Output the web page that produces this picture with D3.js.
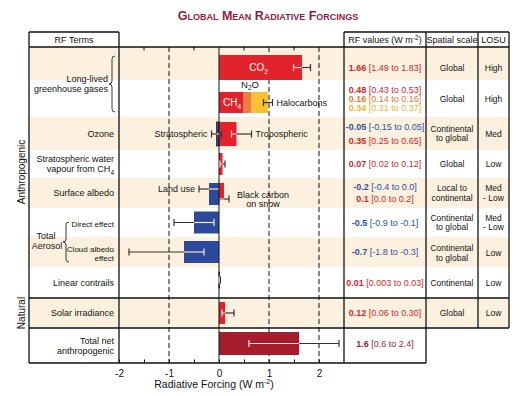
<!DOCTYPE html>
<html>
<head>
<meta charset="utf-8">
<script src="https://d3js.org/d3.v7.min.js"></script>
<style>
  body { margin: 0; background: #fff; }
  text { font-family: "Liberation Sans", Arial, sans-serif; }
</style>
</head>
<body>
<script>
// ---- data ----
var rowKeys = ["co2", "llghg", "ozone", "h2o", "albedo", "direct", "cloud", "contrails", "solar", "total"];

var barTerms  = ["CO2", "CH4", "N2O", "Halocarbons", "Stratospheric", "Tropospheric",
                 "Strat. H2O", "Land use", "Black carbon", "Direct effect", "Cloud albedo",
                 "Linear contrails", "Solar irradiance", "Total net"];
var barRows   = ["co2", "llghg", "llghg", "llghg", "ozone", "ozone", "h2o", "albedo", "albedo",
                 "direct", "cloud", "contrails", "solar", "total"];
var barValues = [1.66, 0.48, 0.16, 0.34, -0.05, 0.35, 0.07, -0.2, 0.1, -0.5, -0.7, 0.01, 0.12, 1.6];
var barKinds  = ["red", "red", "orange", "yellow", "blue", "red", "red", "blue", "red",
                 "blue", "blue", "red", "red", "darkred"];
var barStack  = [null, "ghg", "ghg", "ghg", null, null, null, null, null, null, null, null, null, null];

var errTerms = ["CO2", "Halocarbons", "Stratospheric", "Tropospheric", "Strat. H2O", "Land use",
                "Black carbon", "Direct effect", "Cloud albedo", "Linear contrails", "Solar irradiance", "Total net"];
var errLow   = [1.49, 0.89, -0.15, 0.25, 0.02, -0.4, 0.0, -0.9, -1.8, 0.003, 0.06, 0.6];
var errHigh  = [1.83, 1.07, 0.05, 0.65, 0.12, 0.0, 0.2, -0.1, -0.3, 0.03, 0.30, 2.4];

var termLabels = [
  ["Long-lived", "greenhouse gases"], ["Ozone"], ["Stratospheric water", "vapour from CH4"],
  ["Surface albedo"], ["Direct effect"], ["Cloud albedo", "effect"], ["Linear contrails"],
  ["Solar irradiance"], ["Total net", "anthropogenic"]
];
var termRows = ["llghg", "ozone", "h2o", "albedo", "direct", "cloud", "contrails", "solar", "total"];

var rfValues = [
  [["1.66", "[1.49 to 1.83]", "red"]],
  [["0.48", "[0.43 to 0.53]", "red"], ["0.16", "[0.14 to 0.16]", "orange"], ["0.34", "[0.31 to 0.37]", "yellow"]],
  [["-0.05", "[-0.15 to 0.05]", "blue"], ["0.35", "[0.25 to 0.65]", "red"]],
  [["0.07", "[0.02 to 0.12]", "red"]],
  [["-0.2", "[-0.4 to 0.0]", "blue"], ["0.1", "[0.0 to 0.2]", "red"]],
  [["-0.5", "[-0.9 to -0.1]", "blue"]],
  [["-0.7", "[-1.8 to -0.3]", "blue"]],
  [["0.01", "[0.003 to 0.03]", "red"]],
  [["0.12", "[0.06 to 0.30]", "red"]],
  [["1.6", "[0.6 to 2.4]", "darkred"]]
];
var spatialScale = ["Global", "Global", "Continental|to global", "Global", "Local to|continental",
                    "Continental|to global", "Continental|to global", "Continental", "Global", ""];
var losu = ["High", "High", "Med", "Low", "Med|- Low", "Med|- Low", "Low", "Low", "Low", ""];

var xTickValues = [-2, -1.5, -1, -0.5, 0, 0.5, 1, 1.5, 2];

// ---- layout / style ----
var RF = {};
RF.colors = { red: "#e3232b", orange: "#e9803f", yellow: "#f6c133", blue: "#2c4a9b", darkred: "#a51d2c" };
RF.text   = { red: "#d5262d", orange: "#e07a37", yellow: "#efb628", blue: "#2f4f9c", darkred: "#a21f2f" };
RF.beige = "#fcf1de";
RF.rowH = [33, 37, 33, 28, 30, 29, 30, 31, 30, 35];
RF.top = 47;
RF.barLayout = {   // height, shift from row centre
  "CO2": [25, 4], "CH4": [21, 4], "N2O": [21, 4], "Halocarbons": [21, 4],
  "Stratospheric": [24, 0.5], "Tropospheric": [24, 0.5], "Land use": [22, 1], "Black carbon": [17, -1.5],
  "Linear contrails": [16, -2.5], "Total net": [23, -2]
};
RF.errShift = { "Land use": -4, "Black carbon": 6, "Halocarbons": 4, "CO2": 4, "Stratospheric": 0.5,
                "Tropospheric": 0.5, "Total net": -2, "Linear contrails": -2.5 };

var svg = d3.select("body").append("svg").attr("width", 522).attr("height", 396);

var x = d3.scaleLinear().domain([-2, 2.5]).range([119, 344]);

var rowTop = {}, rowMid = {};
var acc = RF.top;
rowKeys.forEach(function(k, i) {
  rowTop[k] = acc; rowMid[k] = acc + RF.rowH[i] / 2; acc += RF.rowH[i];
});
var bottom = acc;   // 363

// ---- striped background ----
svg.selectAll("rect.band")
  .data(rowKeys.filter(function(k, i) { return i % 2 === 0; }))
  .enter().append("rect")
  .attr("x", 29).attr("width", 480)
  .attr("y", function(k) { return rowTop[k]; })
  .attr("height", function(k) { return RF.rowH[rowKeys.indexOf(k)]; })
  .attr("fill", RF.beige);

// ---- title ----
svg.append("text")
  .attr("x", 268).attr("y", 20)
  .attr("text-anchor", "middle")
  .style("font-variant", "small-caps")
  .attr("font-weight", "bold").attr("font-size", "12.5px")
  .attr("fill", "#8e1c45")
  .text("Global Mean Radiative Forcings");

// ---- grid lines ----
svg.selectAll("line.grid")
  .data([-1, 1, 2])
  .enter().append("line")
  .attr("x1", function(d) { return x(d); }).attr("x2", function(d) { return x(d); })
  .attr("y1", RF.top).attr("y2", bottom)
  .attr("stroke", "#111").attr("stroke-width", 1).attr("stroke-dasharray", "5,3");

// ---- bars ----
var stackAcc = {};
var bars = barTerms.map(function(t, i) {
  var base = 0;
  if (barStack[i]) { base = stackAcc[barStack[i]] || 0; stackAcc[barStack[i]] = base + barValues[i]; }
  var lay = RF.barLayout[t] || [22, 0];
  return { term: t, row: barRows[i], v: barValues[i], base: base, kind: barKinds[i], h: lay[0], dy: lay[1] };
});

svg.selectAll("rect.bar")
  .data(bars)
  .enter().append("rect")
  .attr("class", "bar")
  .attr("x", function(d) { return x(Math.min(d.base, d.base + d.v)); })
  .attr("width", function(d) { return Math.abs(x(d.base + d.v) - x(d.base)); })
  .attr("y", function(d) { return rowMid[d.row] + d.dy - d.h / 2; })
  .attr("height", function(d) { return d.h; })
  .attr("fill", function(d) { return RF.colors[d.kind]; })
  .attr("stroke", function(d) { return (d.term === "Stratospheric" || d.term === "Linear contrails") ? "#222" : "none"; })
  .attr("stroke-width", 0.8);

// zero line
svg.append("line")
  .attr("x1", x(0)).attr("x2", x(0)).attr("y1", RF.top).attr("y2", bottom)
  .attr("stroke", "#111").attr("stroke-width", 1);

// ---- error bars ----
var errs = errTerms.map(function(t, i) {
  var b = bars.filter(function(d) { return d.term === t; })[0];
  var bar = b.term === "Halocarbons" ? { lo: 0, hi: b.base + b.v } :
            { lo: Math.min(b.base, b.base + b.v), hi: Math.max(b.base, b.base + b.v) };
  var light = d3.lab(RF.colors[b.kind]).l > 70;
  return { term: t, lo: errLow[i], hi: errHigh[i], y: rowMid[b.row] + (RF.errShift[t] || 0),
           barLo: bar.lo, barHi: bar.hi, inColor: light ? "#333" : "#fbe9e9" };
});

var eg = svg.selectAll("g.err").data(errs).enter().append("g");
eg.append("line")
  .attr("x1", function(d) { return x(d.lo); }).attr("x2", function(d) { return x(d.hi); })
  .attr("y1", function(d) { return d.y; }).attr("y2", function(d) { return d.y; })
  .attr("stroke", "#333").attr("stroke-width", 1.2);
eg.append("line")   // portion that sits over the bar
  .attr("x1", function(d) { return x(Math.max(d.lo, d.barLo)); })
  .attr("x2", function(d) { return x(Math.max(Math.max(d.lo, d.barLo), Math.min(d.hi, d.barHi))); })
  .attr("y1", function(d) { return d.y; }).attr("y2", function(d) { return d.y; })
  .attr("stroke", function(d) { return d.inColor; }).attr("stroke-width", 1.2);
["lo", "hi"].forEach(function(end) {
  eg.append("line")
    .attr("x1", function(d) { return x(d[end]); }).attr("x2", function(d) { return x(d[end]); })
    .attr("y1", function(d) { return d.y - 3.5; }).attr("y2", function(d) { return d.y + 3.5; })
    .attr("stroke", function(d) {
      var v = d[end];
      return (v > d.barLo + 0.001 && v < d.barHi - 0.001) ? d.inColor : "#333";
    })
    .attr("stroke-width", 1.2);
});

// ---- in-plot labels ----
function sub(sel, main, s) {
  sel.append("tspan").text(main);
  sel.append("tspan").attr("font-size", "6.5px").attr("dy", 2.5).text(s);
}
function barOf(t) { return bars.filter(function(d) { return d.term === t; })[0]; }
var co2 = barOf("CO2"), ch4 = barOf("CH4"), n2o = barOf("N2O");
var tCO2 = svg.append("text").attr("x", x(co2.v / 2) - 2).attr("y", rowMid.co2 + 4 + 3.5)
  .attr("text-anchor", "middle").attr("font-size", "10px").attr("fill", "#fff");
sub(tCO2, "CO", "2");
var tCH4 = svg.append("text").attr("x", x(ch4.v / 2) + 1).attr("y", rowMid.llghg + 4 + 3.5)
  .attr("text-anchor", "middle").attr("font-size", "10px").attr("fill", "#fff");
sub(tCH4, "CH", "4");
var tN2O = svg.append("text").attr("x", x(n2o.base + n2o.v / 2) + 3).attr("y", rowMid.llghg - 11)
  .attr("text-anchor", "middle").attr("font-size", "9.5px").attr("fill", "#111");
tN2O.append("tspan").text("N");
tN2O.append("tspan").attr("font-size", "6.5px").attr("dy", 2.5).text("2");
tN2O.append("tspan").attr("dy", -2.5).text("O");

var sideLabels = [
  { term: "Halocarbons", lines: ["Halocarbons"], side: "right" },
  { term: "Stratospheric", lines: ["Stratospheric"], side: "left" },
  { term: "Tropospheric", lines: ["Tropospheric"], side: "right" },
  { term: "Land use", lines: ["Land use"], side: "left" },
  { term: "Black carbon", lines: ["Black carbon", "on snow"], side: "right" }
];
sideLabels.forEach(function(s) {
  var e = errs.filter(function(d) { return d.term === s.term; })[0];
  var t = svg.append("text").attr("font-size", "9px").attr("fill", "#111")
    .attr("text-anchor", s.side === "left" ? "end" : "start");
  var px = s.side === "left" ? x(e.lo) - 4 : x(e.hi) + 4;
  var py = e.y + 3;
  if (s.term === "Black carbon") { px = x(e.hi) + 8; py = e.y - 1; }
  s.lines.forEach(function(l, i) {
    t.append("tspan").attr("x", s.term === "Black carbon" && i === 1 ? px + 26 : px)
      .attr("text-anchor", s.term === "Black carbon" && i === 1 ? "middle" : null)
      .attr("y", py + i * 9).text(l);
  });
});

// ---- axis ----
var axis = d3.axisBottom(x).tickValues(xTickValues).tickSizeInner(-3.5).tickSizeOuter(0)
  .tickPadding(7)
  .tickFormat(function(d) { return Number.isInteger(d) ? d3.format("d")(d).replace("−", "-") : ""; });
var ag = svg.append("g").attr("transform", "translate(0," + bottom + ")").call(axis);
ag.select(".domain").remove();
ag.selectAll("line").attr("stroke", "#111");
ag.selectAll("text").attr("font-size", "10px").attr("fill", "#111")
  .attr("font-family", "Liberation Sans, Arial, sans-serif");
// top ticks
svg.selectAll("line.ttick").data(xTickValues.filter(function(d) { return !Number.isInteger(d); }))
  .enter().append("line")
  .attr("x1", function(d) { return x(d); }).attr("x2", function(d) { return x(d); })
  .attr("y1", RF.top).attr("y2", RF.top + 3.5).attr("stroke", "#111");

var xl = svg.append("text").attr("x", 214).attr("y", 388).attr("text-anchor", "middle")
  .attr("font-size", "10.5px").attr("fill", "#111");
xl.append("tspan").text("Radiative Forcing  (W m");
xl.append("tspan").attr("font-size", "7px").attr("dy", -4).text("-2");
xl.append("tspan").attr("dy", 4).text(")");

// ---- table lines ----
var hl = [[29, 509, RF.top], [29, 119, 32], [344, 509, 32], [29, 509, rowTop.solar], [29, 509, rowTop.total], [29, 426, bottom]];
var vl = [[29, 32, bottom], [119, 32, bottom], [344, 32, bottom], [426, 32, bottom], [478, 32, rowTop.total], [509, 32, rowTop.total]];
svg.selectAll("line.h").data(hl).enter().append("line")
  .attr("x1", function(d) { return d[0]; }).attr("x2", function(d) { return d[1]; })
  .attr("y1", function(d) { return d[2]; }).attr("y2", function(d) { return d[2]; })
  .attr("stroke", "#111").attr("stroke-width", 1.3);
svg.selectAll("line.v").data(vl).enter().append("line")
  .attr("x1", function(d) { return d[0]; }).attr("x2", function(d) { return d[0]; })
  .attr("y1", function(d) { return d[1]; }).attr("y2", function(d) { return d[2]; })
  .attr("stroke", "#111").attr("stroke-width", 1.3);

// headers
var hdr = [[74, "RF Terms"], [452, "Spatial scale"], [493.5, "LOSU"]];
hdr.forEach(function(h) {
  svg.append("text").attr("x", h[0]).attr("y", 43).attr("text-anchor", "middle")
    .attr("font-size", "9px").attr("fill", "#111").text(h[1]);
});
var rfh = svg.append("text").attr("x", 385).attr("y", 43).attr("text-anchor", "middle")
  .attr("font-size", "9px").attr("fill", "#111");
rfh.append("tspan").text("RF values (W m");
rfh.append("tspan").attr("font-size", "6.5px").attr("dy", -3.5).text("-2");
rfh.append("tspan").attr("dy", 3.5).text(")");

// ---- RF term labels ----
var labelMid = { llghg: 84, direct: 224, cloud: 253 };
termLabels.forEach(function(lines, i) {
  var k = termRows[i];
  var xr = k === "llghg" ? 108 : 114;
  var small = (k === "direct" || k === "cloud");
  var n = lines.length, lh = small ? 9 : 10;
  var t = svg.append("text").attr("text-anchor", "end")
    .attr("font-size", small ? "8px" : "9px").attr("fill", "#111");
  var cy = labelMid[k] || rowMid[k];
  lines.forEach(function(l, j) {
    var ts = t.append("tspan").attr("x", xr).attr("y", cy + 3.2 + (j - (n - 1) / 2) * lh);
    if (l === "vapour from CH4") {
      ts.text("vapour from CH");
      t.append("tspan").attr("font-size", "6.5px").attr("dy", 2.5).text("4");
    } else ts.text(l);
  });
});
// Total Aerosol
var ta = svg.append("text").attr("text-anchor", "middle").attr("font-size", "9px").attr("fill", "#111");
ta.append("tspan").attr("x", 46).attr("y", rowTop.cloud + 2).text("Total");
ta.append("tspan").attr("x", 47).attr("y", rowTop.cloud + 12).text("Aerosol");

// braces
function brace(xb, y0, y1) {
  var m = (y0 + y1) / 2;
  return "M" + (xb + 4) + "," + y0 + " q-3,0 -3,3 L" + (xb + 1) + "," + (m - 3) +
    " q0,3 -3,3 q3,0 3,3 L" + (xb + 1) + "," + (y1 - 3) + " q0,3 3,3";
}
svg.append("path").attr("d", brace(111, rowTop.llghg - 24, rowTop.llghg + 32))
  .attr("fill", "none").attr("stroke", "#222").attr("stroke-width", 0.9);
svg.append("path").attr("d", brace(65, rowTop.direct + 14, rowTop.cloud + 25))
  .attr("fill", "none").attr("stroke", "#222").attr("stroke-width", 0.9);

// group labels
svg.append("text").attr("transform", "translate(25," + 172 + ") rotate(-90)")
  .attr("text-anchor", "middle").attr("font-size", "10px").attr("fill", "#111").text("Anthropogenic");
svg.append("text").attr("transform", "translate(25," + rowMid.solar + ") rotate(-90)")
  .attr("text-anchor", "middle").attr("font-size", "10px").attr("fill", "#111").text("Natural");

// ---- RF values column ----
var rfSpacing = { llghg: 9, ozone: 14, albedo: 12 };
rfValues.forEach(function(lines, i) {
  var k = rowKeys[i], n = lines.length, sp = rfSpacing[k] || 10;
  var cy = rowMid[k] + (k === "co2" ? 4 : 0) + (k === "total" ? -2 : 0);
  lines.forEach(function(l, j) {
    var t = svg.append("text").attr("x", 385).attr("y", cy + 3.2 + (j - (n - 1) / 2) * sp)
      .attr("text-anchor", "middle").attr("font-size", "9px").attr("fill", RF.text[l[2]]);
    t.append("tspan").attr("font-weight", "bold").text(l[0]);
    t.append("tspan").text(" " + l[1]);
  });
});

// ---- spatial scale and LOSU ----
function cellText(arr, cx) {
  arr.forEach(function(s, i) {
    if (!s) return;
    var k = rowKeys[i], lines = s.split("|"), n = lines.length;
    var cy = rowMid[k] + (k === "co2" ? 4 : 0) + (k === "cloud" ? 1 : 0);
    var t = svg.append("text").attr("text-anchor", "middle").attr("font-size", "8.5px").attr("fill", "#111");
    lines.forEach(function(l, j) {
      t.append("tspan").attr("x", cx).attr("y", cy + 3 + (j - (n - 1) / 2) * 9.5).text(l);
    });
  });
}
cellText(spatialScale, 452);
cellText(losu, 493.5);
</script>
</body>
</html>
